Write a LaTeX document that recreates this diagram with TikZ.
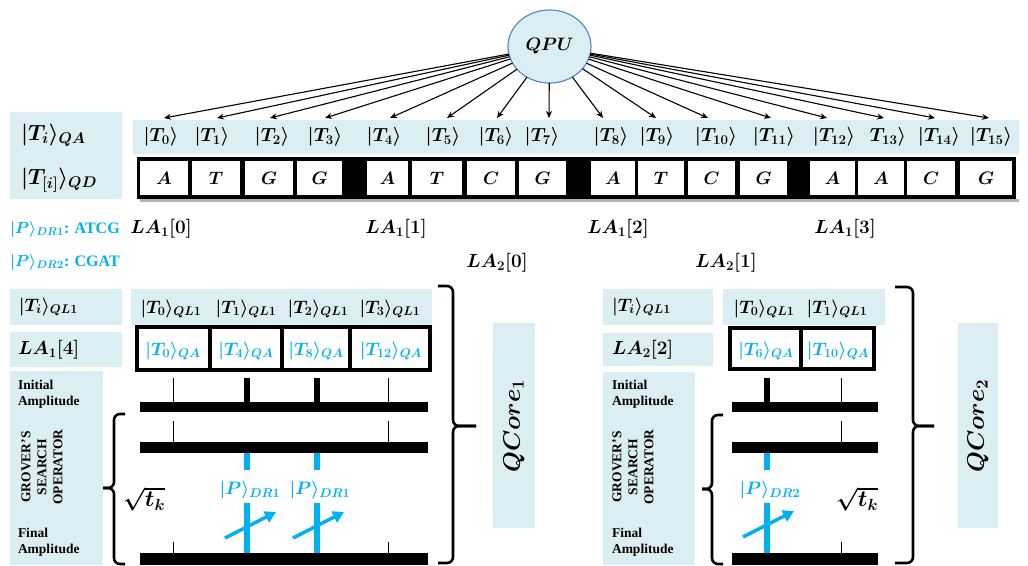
\documentclass[tikz,border=0pt]{standalone}
\usepackage{fix-cm}
\usepackage{amsmath}
\usepackage[no-math]{fontspec}
\setmainfont{Liberation Serif}
\usetikzlibrary{arrows.meta,shapes.geometric}

\definecolor{paleblue}{HTML}{DAEEF3}
\definecolor{skyblue}{HTML}{00B0F0}
\definecolor{rimblue}{HTML}{5B8BC7}

\tikzset{
  every node/.style={inner sep=0pt, outer sep=0pt},
  band/.style={fill=paleblue, draw=none},
  lbl/.style={font=\fontsize{19}{22}\selectfont\boldmath},
  cellchar/.style={font=\fontsize{18}{21}\selectfont\boldmath},
  biglbl/.style={font=\fontsize{22}{26}\selectfont\boldmath},
  midlbl/.style={font=\fontsize{18}{21}\selectfont\boldmath},
  bluelbl/.style={font=\fontsize{18}{21}\selectfont\boldmath, text=skyblue},
  patlbl/.style={font=\fontsize{16}{19}\selectfont\boldmath, text=skyblue},
  note/.style={font=\bfseries\fontsize{13.5}{16}\selectfont, align=left},
  qarrow/.style={draw, line width=1.1pt, -{Stealth[length=7pt,width=6pt]}},
  bar/.style={fill=black},
  thintick/.style={draw, line width=0.9pt},
  thicktick/.style={draw, line width=6pt},
  probe/.style={draw=skyblue, line width=6pt},
  probearrow/.style={draw=skyblue, line width=3.5pt, -{Triangle[length=11pt,width=12pt]}},
  brc/.style={draw, line width=2.6pt, rounded corners=6pt},
  cellframe/.style={draw, line width=4pt},
}

\begin{document}
\begin{tikzpicture}[x=1pt,y=-1pt]
\useasboundingbox (0,0) rectangle (1028,565);

% ---------- processor and address register ----------
\node[ellipse, draw=rimblue, line width=1.2pt, fill=paleblue,
      minimum width=83pt, minimum height=73pt, font=\fontsize{18}{21}\selectfont\boldmath]
      (qpu) at (549.5,46.5) {$QPU$};

\fill[band] (10,112) rectangle (122,199);
\node[biglbl, anchor=west] (lqa) at (21,135) {$|T_i\rangle_{QA}$};
\node[biglbl, anchor=west] (lqd) at (21,180) {$|T_{[i]}\rangle_{QD}$};

\fill[band] (133,120) rectangle (1019,154);

\foreach \i/\x in {0/161,1/212,2/272,3/325,4/384,5/443,6/496,7/542,
                   8/611,9/657,10/716,11/774,12/834,14/939,15/991}
  \node[lbl] (t\i) at (\x,137) {$|T_{\i}\rangle$};
\node[lbl] (t13) at (888,137) {$T_{13}\rangle$};

\foreach \i/\x in {0/164,1/217,2/270,3/325,4/390,5/447,6/497,7/549,
                   8/603,9/656,10/708,11/771,12/827,13/884,14/935,15/989}
  \coordinate (a\i) at (\x,118);
\foreach \i in {0,...,15}
  \draw[qarrow] (qpu) -- (a\i);

% ---------- data register ----------
\fill[black!30] (140,199) rectangle (1019,202);
\fill[black] (137,157) rectangle (1016,199);
\foreach \i/\l/\r/\c in {0/140/188/A,1/192/240/T,2/245/293/G,3/297/342/G,
                         4/367/408/A,5/412/462/T,6/467/515/C,7/519/566/G,
                         8/591/635/A,9/638/684/T,10/688/735/C,11/740/787/G,
                         12/810/855/A,13/858/904/A,14/907/955/C,15/960/1012/G}{
  \fill[white] (\l,161) rectangle (\r,195);
  \node[cellchar] (d\i) at ({(\l+\r)/2},178) {$\c$};
}

% ---------- patterns and lookup arrays ----------
\node[patlbl, anchor=west] (p1) at (10,229) {$|P\rangle_{DR1}$\textbf{: ATCG}};
\node[patlbl, anchor=west] (p2) at (10,262) {$|P\rangle_{DR2}$\textbf{: CGAT}};

\node[lbl] (la10) at (161,229) {$LA_1[0]$};
\node[lbl] (la11) at (396,229) {$LA_1[1]$};
\node[lbl] (la12) at (618,229) {$LA_1[2]$};
\node[lbl] (la13) at (845,229) {$LA_1[3]$};
\node[lbl] (la20) at (497,263) {$LA_2[0]$};
\node[lbl] (la21) at (726,263) {$LA_2[1]$};

% ---------- quantum core 1 ----------
\fill[band] (10,289) rectangle (122,325);
\node[midlbl, anchor=west] (c1ti) at (19,307) {$|T_i\rangle_{QL1}$};
\fill[band] (131,289) rectangle (432,325);
\foreach \i/\x in {0/171,1/246,2/318,3/390}
  \node[midlbl] (c1q\i) at (\x,309) {$|T_{\i}\rangle_{QL1}$};

\fill[band] (10,332) rectangle (122,367);
\node[lbl, anchor=west] (c1la) at (18,350) {$LA_1[4]$};

\draw[cellframe] (137,327) rectangle (430,370);
\foreach \x in {210,282,350} \draw[cellframe] (\x,327) -- (\x,370);
\foreach \i/\x/\t in {0/173/0,1/246/4,2/316/8,3/391/12}
  \node[bluelbl] (c1v\i) at (\x,351) {$|T_{\t}\rangle_{QA}$};

\fill[band] (10,371) rectangle (103,565);
\node[note, anchor=west] (c1ia) at (18,394) {Initial\\Amplitude};
\node[note, align=center, rotate=90] (c1gs) at (42,467) {GROVER'S\\SEARCH\\OPERATOR};
\node[note, anchor=west] (c1fa) at (18,542) {Final\\Amplitude};

\fill[bar] (140,402) rectangle (428,412);
\fill[bar] (140,442) rectangle (428,453);
\fill[bar] (140,553) rectangle (428,565);
\foreach \x in {173,388}{
  \draw[thintick] (\x,378) -- (\x,402);
  \draw[thintick] (\x,421) -- (\x,442);
  \draw[thintick] (\x,542) -- (\x,553);
}
\foreach \x in {247,317} \draw[thicktick] (\x,378) -- (\x,402);

\foreach \x in {247,317}{
  \draw[probe] (\x,453) -- (\x,470);
  \draw[probe] (\x,503) -- (\x,553);
}
\node[bluelbl] (c1p1) at (250,490) {$|P\rangle_{DR1}$};
\node[bluelbl] (c1p2) at (320,490) {$|P\rangle_{DR1}$};
\draw[probearrow] (225,538) -- (276,512);
\draw[probearrow] (293,538) -- (344,512);

\node[font=\fontsize{23}{27}\selectfont\boldmath] (c1sq) at (144,499) {$\sqrt{t_k}$};

\draw[brc] (125,414) -- (114,414) -- (114,488) -- (103,488);
\draw[brc] (103,488) -- (114,488) -- (114,564) -- (125,564);

\draw[brc] (438,286) -- (453,286) -- (453,426) -- (476,426);
\draw[brc] (476,426) -- (453,426) -- (453,563) -- (438,563);

\fill[band] (493,323) rectangle (535,528);
\node[font=\fontsize{24}{28}\selectfont\boldmath, rotate=90] (core1) at (514,426) {$QCore_1$};

% ---------- quantum core 2 ----------
\fill[band] (603,289) rectangle (713,325);
\node[midlbl, anchor=west] (c2ti) at (612,307) {$|T_i\rangle_{QL1}$};
\fill[band] (723,289) rectangle (885,325);
\foreach \i/\x in {0/764,1/837}
  \node[midlbl] (c2q\i) at (\x,309) {$|T_{\i}\rangle_{QL1}$};

\fill[band] (603,333) rectangle (713,366);
\node[lbl, anchor=west] (c2la) at (612,350) {$LA_2[2]$};

\draw[cellframe] (730,328) rectangle (874,369);
\draw[cellframe] (801,328) -- (801,369);
\node[bluelbl] (c2v0) at (766,351) {$|T_{6}\rangle_{QA}$};
\node[bluelbl] (c2v1) at (838,351) {$|T_{10}\rangle_{QA}$};

\fill[band] (603,372) rectangle (695,565);
\node[note, anchor=west] (c2ia) at (612,394) {Initial\\Amplitude};
\node[note, align=center, rotate=90] (c2gs) at (633,467) {GROVER'S\\SEARCH\\OPERATOR};
\node[note, anchor=west] (c2fa) at (612,542) {Final\\Amplitude};

\fill[bar] (732,402) rectangle (878,412);
\fill[bar] (732,442) rectangle (878,453);
\fill[bar] (732,553) rectangle (878,565);
\draw[thicktick] (767,378) -- (767,402);
\draw[thintick] (841,378) -- (841,402);
\draw[thintick] (841,421) -- (841,442);
\draw[thintick] (841,542) -- (841,553);

\draw[probe] (767,453) -- (767,470);
\draw[probe] (767,503) -- (767,553);
\node[bluelbl] (c2p1) at (770,490) {$|P\rangle_{DR2}$};
\draw[probearrow] (743,537) -- (794,511);

\node[font=\fontsize{23}{27}\selectfont\boldmath] (c2sq) at (857,499) {$\sqrt{t_k}$};

\draw[brc] (723,415) -- (712,415) -- (712,489) -- (702,489);
\draw[brc] (702,489) -- (712,489) -- (712,564) -- (723,564);

\draw[brc] (895,287) -- (913,287) -- (913,426) -- (934,426);
\draw[brc] (934,426) -- (913,426) -- (913,563) -- (895,563);

\fill[band] (958,323) rectangle (998,528);
\node[font=\fontsize{24}{28}\selectfont\boldmath, rotate=90] (core2) at (978,426) {$QCore_2$};

\end{tikzpicture}
\end{document}
